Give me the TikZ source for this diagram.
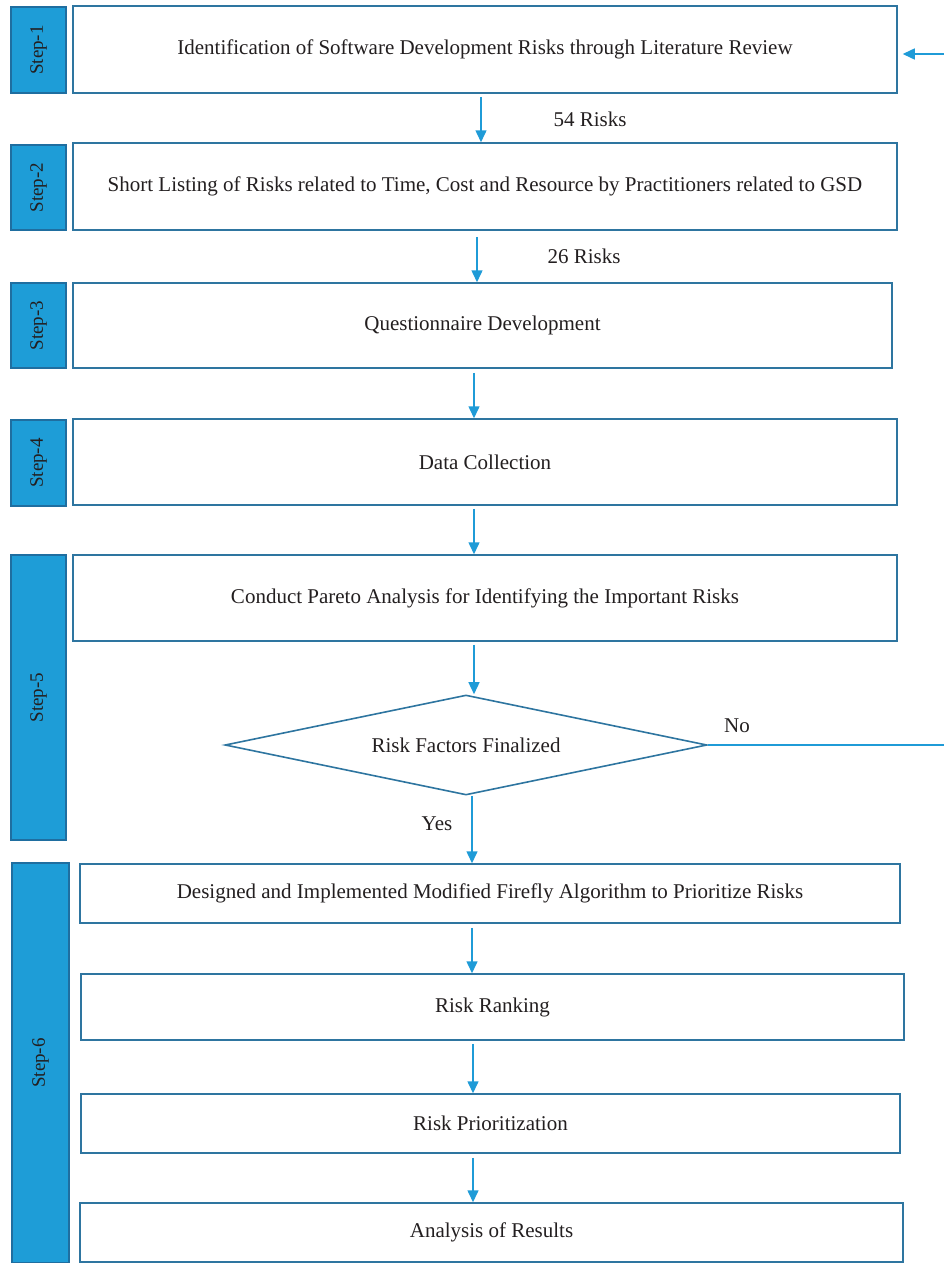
\documentclass[tikz,border=0pt]{standalone}
\usepackage{fontspec}
\setmainfont{Liberation Serif}
\usetikzlibrary{shapes.geometric,arrows.meta}
\definecolor{stepblue}{RGB}{30,157,215}
\definecolor{stepedge}{RGB}{31,110,160}
\definecolor{boxedge}{RGB}{46,117,160}
\definecolor{arrblue}{RGB}{31,155,215}
\definecolor{txt}{RGB}{35,31,32}
\tikzset{
  stepbar/.style={draw=stepedge, fill=stepblue, line width=1.2pt, rotate=90, inner sep=0pt,
    font=\fontsize{19}{23}\selectfont, text=txt},
  box/.style={draw=boxedge, fill=white, line width=1.5pt, inner sep=0pt,
    font=\fontsize{21}{25}\selectfont, text=txt},
  dia/.style={diamond, draw=boxedge, line width=1.6pt, inner sep=0pt, aspect=4.8,
    font=\fontsize{21}{25}\selectfont, text=txt},
  lab/.style={font=\fontsize{21}{25}\selectfont, text=txt, inner sep=0pt},
  arr/.style={draw=arrblue, line width=1.5pt, -{Triangle[length=12pt,width=11pt]}},
  fline/.style={draw=arrblue, line width=1.6pt}
}
\begin{document}
\begin{tikzpicture}[x=1pt,y=-1pt]
\useasboundingbox (0,0) rectangle (944,1263);
% step bars
\node[stepbar, minimum width=86, minimum height=55] (s1) at (38.5,50) {Step-1};
\node[stepbar, minimum width=85, minimum height=55] (s2) at (38.5,187.5) {Step-2};
\node[stepbar, minimum width=85, minimum height=55] (s3) at (38.5,325.5) {Step-3};
\node[stepbar, minimum width=86, minimum height=55] (s4) at (38.5,463) {Step-4};
\node[stepbar, minimum width=285, minimum height=55] (s5) at (38.5,697.5) {Step-5};
\node[stepbar, minimum width=400, minimum height=57] (s6) at (40.5,1063) {Step-6};
% boxes
\node[box, minimum width=824, minimum height=87] (b1) at (485,49.5) {Identification of Software Development Risks through Literature Review};
\node[box, minimum width=824, minimum height=87] (b2) at (485,186.5) {Short Listing of Risks related to Time, Cost and Resource by Practitioners related to GSD};
\node[box, minimum width=819, minimum height=85] (b3) at (482.5,325.5) {Questionnaire Development};
\node[box, minimum width=824, minimum height=86] (b4) at (485,462) {Data Collection};
\node[box, minimum width=824, minimum height=86] (b5) at (485,598) {Conduct Pareto Analysis for Identifying the Important Risks};
\node[dia, minimum width=482, minimum height=100] (d) at (466,745) {Risk Factors Finalized};
\node[box, minimum width=820, minimum height=59] (b6) at (490,893.5) {Designed and Implemented Modified Firefly Algorithm to Prioritize Risks};
\node[box, minimum width=823, minimum height=66] (b7) at (492.5,1007) {Risk Ranking};
\node[box, minimum width=819, minimum height=59] (b8) at (490.5,1123.5) {Risk Prioritization};
\node[box, minimum width=823, minimum height=59] (b9) at (491.5,1232.5) {Analysis of Results};
% arrows
\draw[arr] ([yshift=-3]b1.south -| 481,0) -- (b2.north -| 481,0);
\draw[arr] ([yshift=-6]b2.south -| 477,0) -- (b3.north -| 477,0);
\draw[arr] ([yshift=-4]b3.south -| 474,0) -- (b4.north -| 474,0);
\draw[arr] ([yshift=-3]b4.south -| 474,0) -- (b5.north -| 474,0);
\draw[arr] ([yshift=-3]b5.south -| 474,0) -- (d.north -| 474,0);
\draw[arr] (d.south -| 472,0) -- (b6.north -| 472,0);
\draw[arr] ([yshift=-4]b6.south -| 472,0) -- (b7.north -| 472,0);
\draw[arr] ([yshift=-3]b7.south -| 473,0) -- (b8.north -| 473,0);
\draw[arr] ([yshift=-4]b8.south -| 473,0) -- (b9.north -| 473,0);
% feedback loop (continues beyond the picture edge)
\coordinate (fbR) at (944,745);
\coordinate (fbT) at (944,54);
\draw[fline] (d.east) -- (fbR);
\draw[arr] (fbT) -- ([xshift=5]b1.east |- fbT);
% labels
\node[lab] (l54) at (590,119) {54 Risks};
\node[lab] (l26) at (584,256) {26 Risks};
\node[lab] (lno) at (737,726) {No};
\node[lab] (lyes) at (437,824) {Yes};
\end{tikzpicture}
\end{document}
